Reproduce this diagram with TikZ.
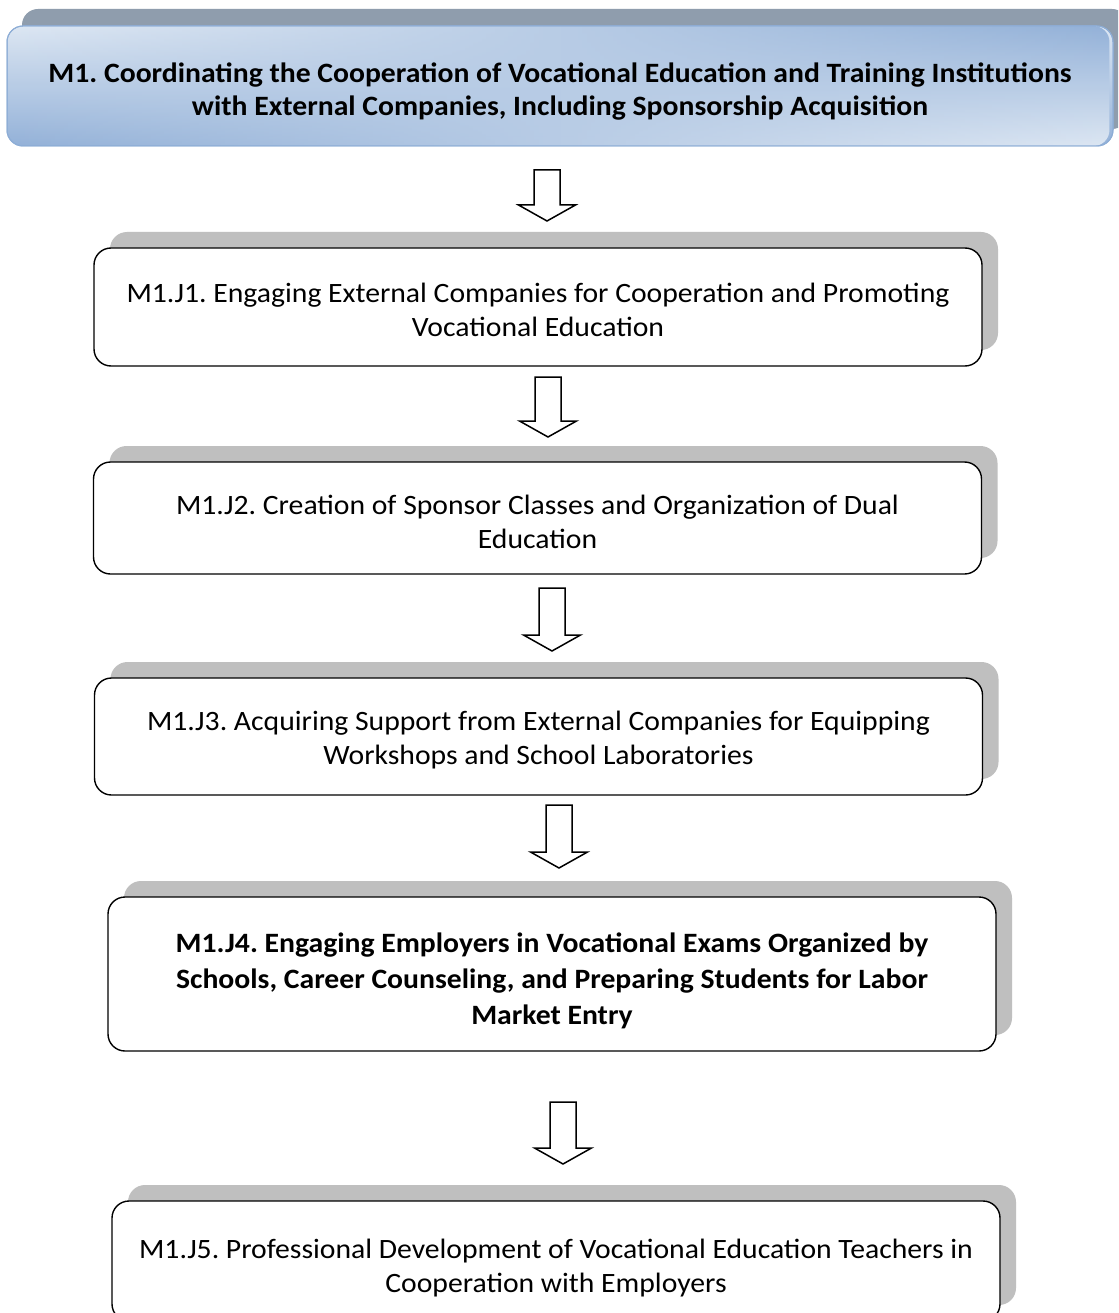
\documentclass[tikz,border=0pt]{standalone}
\usepackage{fontspec}
\setmainfont{Carlito}[FakeStretch=1.06]
\usetikzlibrary{shadows,fadings}
\definecolor{shgray}{HTML}{BFBFBF}
\definecolor{mshadow}{HTML}{8F9DAD}
\definecolor{mlight}{HTML}{DDE7F3}
\definecolor{mblue}{HTML}{93B1D8}
\definecolor{mborder}{HTML}{8DADD6}
\tikzset{
  jbox/.style={draw=black, line width=1.4pt, fill=white, rounded corners=17pt,
    minimum width=888pt, inner sep=0pt, align=center,
    font=\fontsize{28}{34}\selectfont,
    drop shadow={shadow xshift=16pt, shadow yshift=16pt, fill=shgray, opacity=1}},
  mbox/.style={draw=mborder, line width=1pt, rounded corners=16pt,
    top color=mlight, bottom color=mblue,
    minimum width=1106pt, minimum height=120pt, inner sep=0pt, align=center,
    font=\fontsize{28}{33}\selectfont\bfseries,
    drop shadow={shadow xshift=15pt, shadow yshift=17pt, fill=mshadow, opacity=1},
    postaction={top color=mblue, bottom color=mlight, path fading=west},
    postaction={draw=mborder, line width=1pt}},
  pics/barrow/.style={code={
    \draw[line width=1.5pt, fill=white, line join=miter]
      (-13,0) -- (13,0) -- (13,{-#1+16}) -- (28.5,{-#1+16}) -- (0,-#1)
      -- (-28.5,{-#1+16}) -- (-13,{-#1+16}) -- cycle;}}
}
\begin{document}
\frenchspacing
\begin{tikzpicture}[x=1pt,y=1pt]
\clip (0,0) rectangle (1118,-1313);
\useasboundingbox (0,0) rectangle (1118,-1313);
\fill[white] (0,0) rectangle (1118,-1313);

\node[mbox, text height=64pt] (m1) at (560,-86) {M1. Coordinating the Cooperation of Vocational Education and Training Institutions\\with External Companies, Including Sponsorship Acquisition};

\node[jbox, minimum height=118pt, text height=59pt] (j1) at (538,-307) {M1.J1. Engaging External Companies for Cooperation and Promoting\\Vocational Education};
\node[jbox, minimum height=112pt, text height=62pt] (j2) at (537.5,-518) {M1.J2. Creation of Sponsor Classes and Organization of Dual\\Education};
\node[jbox, minimum height=117pt, text height=61pt] (j3) at (538.5,-736.5) {M1.J3. Acquiring Support from External Companies for Equipping\\Workshops and School Laboratories};
\node[jbox, minimum height=154pt, text height=106pt, font=\fontsize{28}{36}\selectfont\bfseries] (j4) at (552,-974) {M1.J4. Engaging Employers in Vocational Exams Organized by\\Schools, Career Counseling, and Preparing Students for Labor\\Market Entry};
\node[jbox, minimum height=120pt, text height=68pt] (j5) at (556,-1261) {M1.J5. Professional Development of Vocational Education Teachers in\\Cooperation with Employers};

\pic (a1) at (547,-170) {barrow=51};
\pic (a2) at (548,-377) {barrow=60};
\pic (a3) at (552,-588) {barrow=63};
\pic (a4) at (559,-805) {barrow=63};
\pic (a5) at (563,-1102) {barrow=62};
\end{tikzpicture}
\end{document}
